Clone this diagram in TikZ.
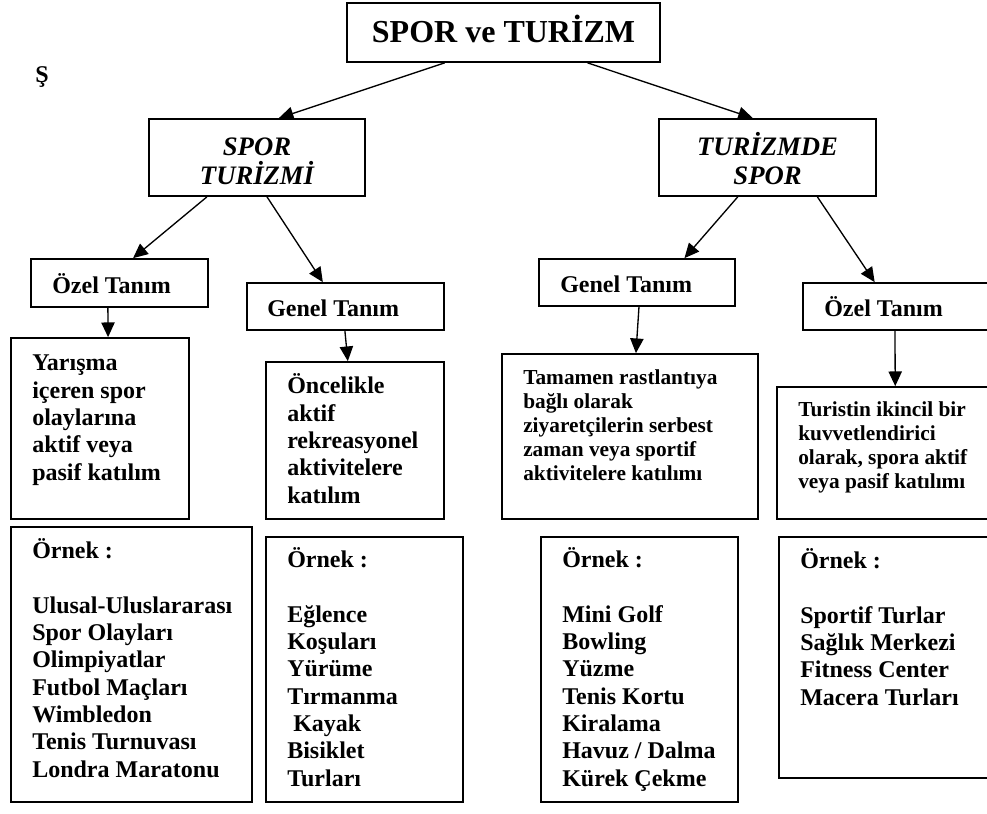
\documentclass[tikz,border=0pt]{standalone}
\usepackage{fontspec}
\setmainfont{Liberation Serif}
\usetikzlibrary{arrows.meta,calc}

\tikzset{
  boxframe/.style 2 args={draw, line width=1.3pt, minimum width=#1*0.75pt, minimum height=#2*0.75pt, inner sep=0pt},
  body/.style={anchor=base west, align=left, inner sep=0pt, font=\fontsize{18}{20.5}\selectfont\bfseries},
  smallbody/.style={anchor=base west, align=left, inner sep=0pt, font=\fontsize{16}{18}\selectfont\bfseries},
  head/.style={anchor=base, align=center, inner sep=0pt, font=\fontsize{20}{21.75}\selectfont\bfseries\itshape},
  link/.style={line width=1pt, -{Triangle[length=11pt,width=10pt]}},
}

\begin{document}
\begin{tikzpicture}[x=0.75pt, y=-0.75pt]
\useasboundingbox (0,0) rectangle (987,813);
\clip (0,0) rectangle (987,813);

% ── Title ──
\node[boxframe={313}{59}] (top) at (503.5,32.5) {};
\node[anchor=base, inner sep=0pt, font=\fontsize{24}{28}\selectfont\bfseries] (topT) at (503.5,43) {SPOR ve TURİZM};
\node[anchor=base, inner sep=0pt, font=\fontsize{18}{20}\selectfont\bfseries] (mark) at (42,83) {Ş};

% ── Level 1 ──  (multi-line texts are placed at the baseline of their last line)
\node[boxframe={216}{77}] (sporT) at (257,157.5) {};
\node[head] (sporTT) at (257,184) {SPOR\\TURİZMİ};
\node[boxframe={217}{77}] (turS) at (767.5,157.5) {};
\node[head] (turST) at (767.5,184) {TURİZMDE\\SPOR};

% ── Level 2: definitions ──
\node[boxframe={177}{48}] (ozelL) at (119.5,283) {};
\node[body] (ozelLT) at (52,293) {Özel Tanım};
\node[boxframe={197}{47}] (genelL) at (345.5,306.5) {};
\node[body] (genelLT) at (267,316) {Genel Tanım};
\node[boxframe={196}{47}] (genelR) at (637,282.5) {};
\node[body] (genelRT) at (560,292) {Genel Tanım};
\node[boxframe={197}{47}] (ozelR) at (901.5,306.5) {};
\node[body] (ozelRT) at (824,316) {Özel Tanım};

% ── Level 3: descriptions ──
\node[boxframe={178}{181}] (yar) at (100,428.5) {};
\node[body] (yarT) at (32,480) {Yarışma\\içeren spor\\olaylarına\\aktif veya\\pasif katılım};
\node[boxframe={178}{157}] (onc) at (355,440.5) {};
\node[body] (oncT) at (287,503) {Öncelikle\\aktif\\rekreasyonel\\aktivitelere\\katılım};
\node[boxframe={256}{165}] (tam) at (630,436.5) {};
\node[smallbody] (tamT) at (523,480) {Tamamen rastlantıya\\bağlı olarak\\ziyaretçilerin serbest\\zaman veya sportif\\aktivitelere katılımı};
\node[boxframe={223}{132}] (tur) at (888.5,453) {};
\node[smallbody] (turT) at (798,488.5) {Turistin ikincil bir\\kuvvetlendirici\\olarak, spora aktif\\veya pasif katılımı};

% ── Level 4: examples ──
\node[boxframe={241}{275}] (ex1) at (131.5,664.5) {};
\node[body] (ex1T) at (32,777) {Örnek :\\[20.5pt]Ulusal-Uluslararası\\Spor Olayları\\Olimpiyatlar\\Futbol Maçları\\Wimbledon\\Tenis Turnuvası\\Londra Maratonu};
\node[boxframe={197}{265}] (ex2) at (364.5,669.5) {};
\node[body] (ex2T) at (287,786) {Örnek :\\[20.5pt]Eğlence\\Koşuları\\Yürüme\\Tırmanma\\\hspace*{0.25em}Kayak\\Bisiklet\\Turları};
\node[boxframe={197}{265}] (ex3) at (639.5,669.5) {};
\node[body] (ex3T) at (562,786) {Örnek :\\[20.5pt]Mini Golf\\Bowling\\Yüzme\\Tenis Kortu\\Kiralama\\Havuz / Dalma\\Kürek Çekme};
\node[boxframe={221}{241}] (ex4) at (889.5,657.5) {};
\node[body] (ex4T) at (800,705) {Örnek :\\[20.5pt]Sportif Turlar\\Sağlık Merkezi\\Fitness Center\\Macera Turları};

% ── Connectors ──
\draw[link] ($(top.south west)!0.313!(top.south east)$) -- ($(sporT.north west)!0.60!(sporT.north east)$);
\draw[link] ($(top.south west)!0.767!(top.south east)$) -- ($(turS.north west)!0.433!(turS.north east)$);
\draw[link] ($(sporT.south west)!0.27!(sporT.south east)$) -- ($(ozelL.north west)!0.576!(ozelL.north east)$);
\draw[link] ($(sporT.south west)!0.546!(sporT.south east)$) -- ($(genelL.north west)!0.386!(genelL.north east)$);
\draw[link] ($(turS.south west)!0.364!(turS.south east)$) -- ($(genelR.north west)!0.74!(genelR.north east)$);
\draw[link] ($(turS.south west)!0.728!(turS.south east)$) -- ($(ozelR.north west)!0.365!(ozelR.north east)$);
\draw[link] ($(ozelL.south west)!0.435!(ozelL.south east)$) -- ($(yar.north west)!0.545!(yar.north east)$);
\draw[link] ($(genelL.south west)!0.497!(genelL.south east)$) -- ($(onc.north west)!0.46!(onc.north east)$);
\draw[link] ($(genelR.south west)!0.51!(genelR.south east)$) -- ($(tam.north west)!0.523!(tam.north east)$);
\draw[link] ($(ozelR.south west)!0.467!(ozelR.south east)$) -- ($(tur.north west)!0.53!(tur.north east)$);

\end{tikzpicture}
\end{document}
